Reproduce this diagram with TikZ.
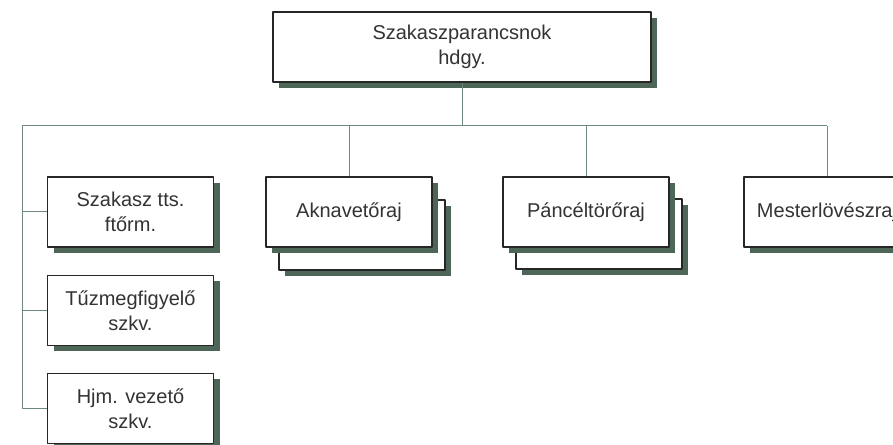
\documentclass[tikz,border=0pt]{standalone}
\usepackage{fontspec}
\setmainfont{Liberation Sans}
\usetikzlibrary{shadows,calc,positioning}
\definecolor{shadowgreen}{HTML}{4E6657}
\definecolor{linegreen}{HTML}{6E8A7E}

\begin{document}
\begin{tikzpicture}[x=0.75pt,y=-0.75pt,line join=round,
  unit/.style={draw=black!85,fill=white,line width=0.9pt,minimum width=124.5pt,minimum height=52.5pt,
    align=center,text=black!80,font=\fontsize{15}{18.75}\selectfont,
    drop shadow={shadow xshift=4.5pt,shadow yshift=-4.5pt,fill=shadowgreen,opacity=1}},
  link/.style={draw=linegreen,line width=0.75pt}]
\useasboundingbox (0,0) rectangle (893,445);
\coordinate (busL) at (22,126);
\coordinate (busR) at (827,126);
% head
\node[unit,minimum width=283.5pt] (cmd) at (462,47) {Szakaszparancsnok\\hdgy.};
% staff
\node[unit] (stab) at (130.5,212) {Szakasz tts.\\ftőrm.};
\node[unit] (obs) at (130.5,310.5) {Tűzmegfigyelő\\szkv.};
\node[unit] (drv) at (130.5,408.5) {Hjm. vezető\\szkv.};
% squads
\node[unit] (mortb) at ($(349,212)+(13,23)$) {};
\node[unit] (mort) at (349,212) {Aknavetőraj};
\node[unit] (atb) at ($(586,212)+(13,22)$) {};
\node[unit] (at) at (586,212) {Páncéltörőraj};
\node[unit] (snip) at (827,212) {Mesterlövészraj};
% connectors
\draw[link] (cmd.south) -- (cmd.south |- busL);
\draw[link] (busL) -- (busR);
\draw[link] (busL) |- (drv.west);
\draw[link] (busL |- stab.west) -- (stab.west);
\draw[link] (busL |- obs.west) -- (obs.west);
\draw[link] (mort.north) -- (mort.north |- busL);
\draw[link] (at.north) -- (at.north |- busL);
\draw[link] (snip.north) -- (busR);
\end{tikzpicture}
\end{document}
